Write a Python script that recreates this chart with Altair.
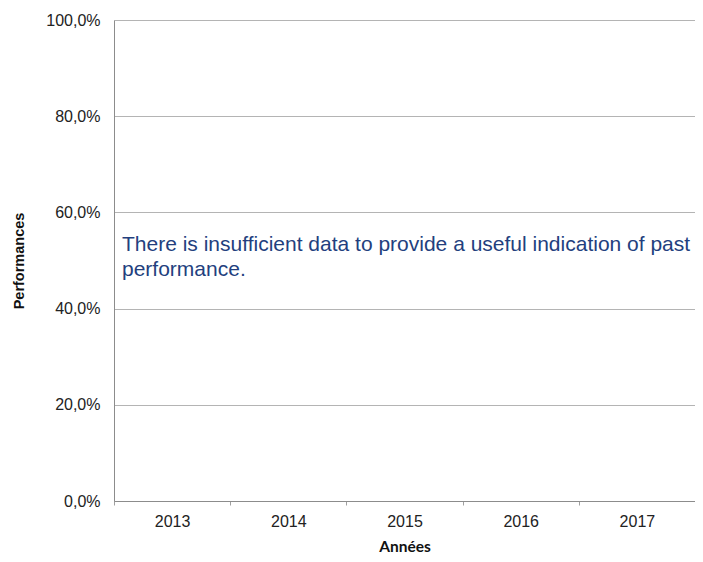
import altair as alt
import pandas as pd

years = ["2013", "2014", "2015", "2016", "2017"]
performances = [None, None, None, None, None]
y_ticks = [0, 0.2, 0.4, 0.6, 0.8, 1.0]
message = ["There is insufficient data to provide a useful indication of past", "performance."]
message_level = [0.532]

df = pd.DataFrame({"Années": years, "Performances": performances})
msg_df = pd.DataFrame({"y": message_level, "text": [message]})

W, H = 581, 481

base = alt.Chart(df).mark_bar(color="#1f3a7a").encode(
    x=alt.X("Années:N", scale=alt.Scale(domain=years, paddingInner=0, paddingOuter=0),
            axis=alt.Axis(title="Années", labelAngle=0, tickBand="extent", tickSize=4,
                          tickColor="#a0a0a0", domainColor="#8c8c8c", labelFontSize=16,
                          labelFont="Arial", labelColor="#222222", labelPadding=8,
                          titleFont="Lato", titleFontSize=15.5, titleFontWeight="bold",
                          titleColor="#111111", titlePadding=10, grid=False)),
    y=alt.Y("Performances:Q", scale=alt.Scale(domain=[0, 1]),
            axis=alt.Axis(title="Performances", values=y_ticks, ticks=False,
                          labelExpr="replace(format(datum.value, '.1%'), '.', ',')",
                          labelFontSize=16, labelFont="Arial", labelColor="#222222",
                          labelPadding=14, domainColor="#8c8c8c", gridColor="#b4b4b4",
                          titleFont="Arial", titleFontSize=14.5, titleFontWeight="bold",
                          titleColor="#111111", titleAngle=270, titleX=-95, titleY=H / 2,
                          titleAlign="center", titleBaseline="middle")),
)

msg = alt.Chart(msg_df).mark_text(
    align="left", baseline="middle", font="Arial", fontSize=21,
    color="#233f7e", lineHeight=25,
).encode(
    x=alt.value(8),
    y=alt.Y("y:Q", scale=alt.Scale(domain=[0, 1])),
    text="text",
)

chart = alt.layer(base, msg).properties(
    width=W, height=H,
    autosize=alt.AutoSizeParams(type="none"),
    padding={"left": 106, "top": 12, "right": 0, "bottom": 52},
).configure_view(stroke=None).configure(background="white")

chart.save("out.html", embed_options={"renderer": "svg", "actions": False})
